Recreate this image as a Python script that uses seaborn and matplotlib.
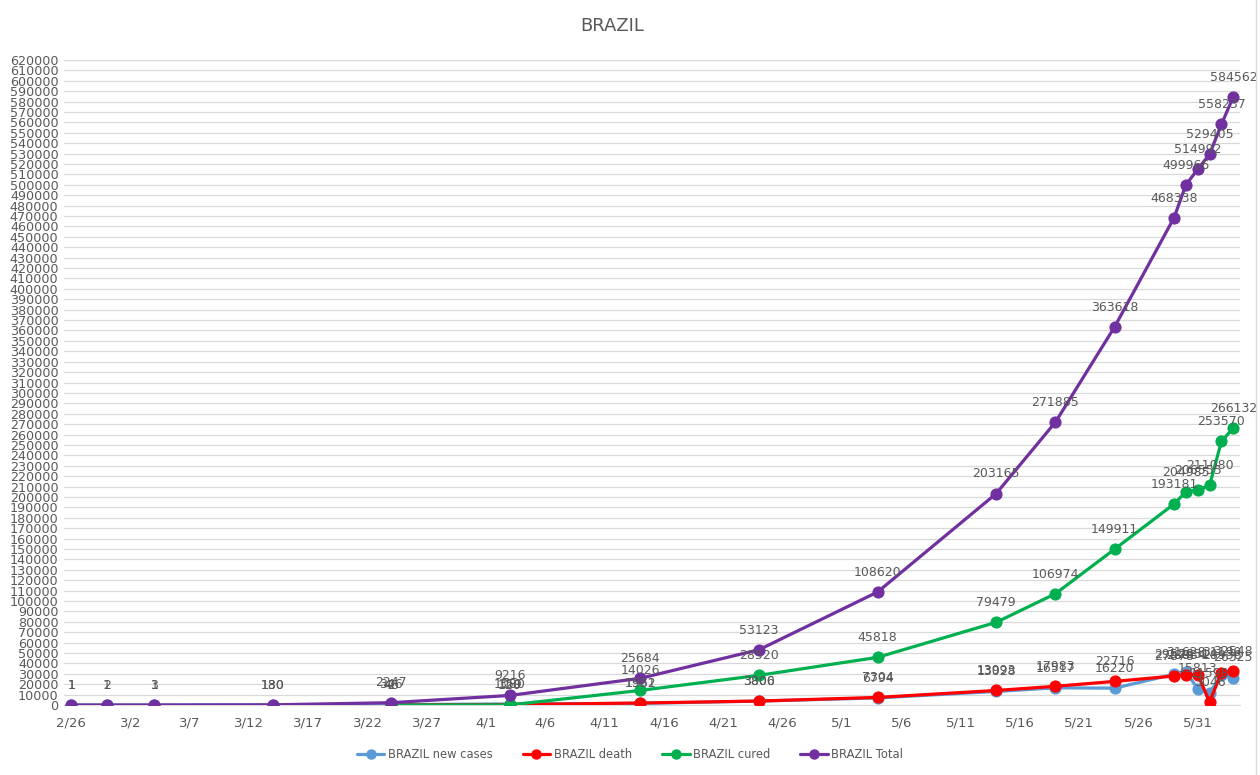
import numpy as np
import pandas as pd
import matplotlib.pyplot as plt
import matplotlib.dates as mdates
from matplotlib.lines import Line2D
import seaborn as sns

# Data
dates = ['2020-02-26', '2020-02-29', '2020-03-04', '2020-03-14', '2020-03-24', '2020-04-03',
         '2020-04-14', '2020-04-24', '2020-05-04', '2020-05-14', '2020-05-19', '2020-05-24',
         '2020-05-29', '2020-05-30', '2020-05-31', '2020-06-01', '2020-06-02', '2020-06-03']
new_cases = [1, 1, 1, 130, 346, 1080, 1561, 3800, 6794, 13028, 16517, 16220,
             29526, 31628, 15813, 11598, 28936, 26325]
death = [np.nan, np.nan, np.nan, np.nan, 46, 359, 1952, 3806, 7304, 13993, 17983, 22716,
         27878, 28834, 29314, 3046, 31199, 32548]
cured = [np.nan, np.nan, np.nan, np.nan, 2, 120, 14026, 28520, 45818, 79479, 106974, 149911,
         193181, 204985, 206555, 211080, 253570, 266132]
total = [1, 2, 3, 180, 2247, 9216, 25684, 53123, 108620, 203165, 271885, 363618,
         468338, 499966, 514992, 529405, 558237, 584562]

series_names = ['BRAZIL new cases', 'BRAZIL death', 'BRAZIL cured', 'BRAZIL Total']
series_values = [new_cases, death, cured, total]
colors = ['#5B9BD5', '#FF0000', '#00B050', '#7030A0']

x = pd.to_datetime(dates)
tick_dates = pd.date_range('2020-02-26', '2020-05-31', freq='5D')
tick_labels = [f"{d.month}/{d.day}" for d in tick_dates]

sns.set_style("white")
plt.rcParams['font.family'] = ['DejaVu Sans']
grey = '#595959'

fig = plt.figure(figsize=(12.6, 7.75), dpi=100)
ax = fig.add_axes([0.0508, 0.0903, 0.9332, 0.8323])

for i, (name, vals, col) in enumerate(zip(series_names, series_values, colors)):
    df = pd.DataFrame({'date': x, 'value': vals}).dropna()
    sns.lineplot(data=df, x='date', y='value', ax=ax, color=col, linewidth=2.3,
                 marker='o', markersize=8, markeredgecolor=col, zorder=3 + i)
    for d, v in zip(df['date'], df['value']):
        ax.annotate(str(int(v)), (mdates.date2num(d), v), xytext=(0, 9.5),
                    textcoords='offset points', ha='center', va='bottom',
                    fontsize=9, color=grey, zorder=10)

ax.set_ylim(0, 620000)
ax.set_yticks(np.arange(0, 620001, 10000))
ax.set_yticklabels([str(v) for v in range(0, 620001, 10000)])
ax.set_xlim(mdates.date2num(pd.Timestamp('2020-02-26')) - 0.6,
            mdates.date2num(pd.Timestamp('2020-06-03')) + 0.55)
ax.set_xticks(mdates.date2num(tick_dates))
ax.set_xticklabels(tick_labels)

ax.grid(axis='y', color='#d9d9d9', linewidth=0.9)
ax.grid(axis='x', visible=False)
for s in ['top', 'right', 'left']:
    ax.spines[s].set_visible(False)
ax.spines['bottom'].set_color('#d9d9d9')
ax.tick_params(axis='both', length=0, colors=grey)
ax.tick_params(axis='x', pad=8, labelsize=9.5)
ax.tick_params(axis='y', pad=4, labelsize=9.2)
ax.set_xlabel('')
ax.set_ylabel('')

fig.text(0.486, 0.967, 'BRAZIL', ha='center', va='center', fontsize=13, color=grey)

handles = [Line2D([0], [0], color=c, linewidth=2.3, marker='o', markersize=6.5) for c in colors]
fig.legend(handles, series_names, loc='center', bbox_to_anchor=(0.5, 0.026), ncol=4,
           frameon=False, fontsize=8.3, labelcolor=grey, handlelength=2.4, columnspacing=2.6,
           handletextpad=0.3)

fig.add_artist(Line2D([0.9965, 0.9965], [0, 1], color='#d9d9d9', linewidth=1))

plt.savefig('out.png', dpi=100)
plt.close()
